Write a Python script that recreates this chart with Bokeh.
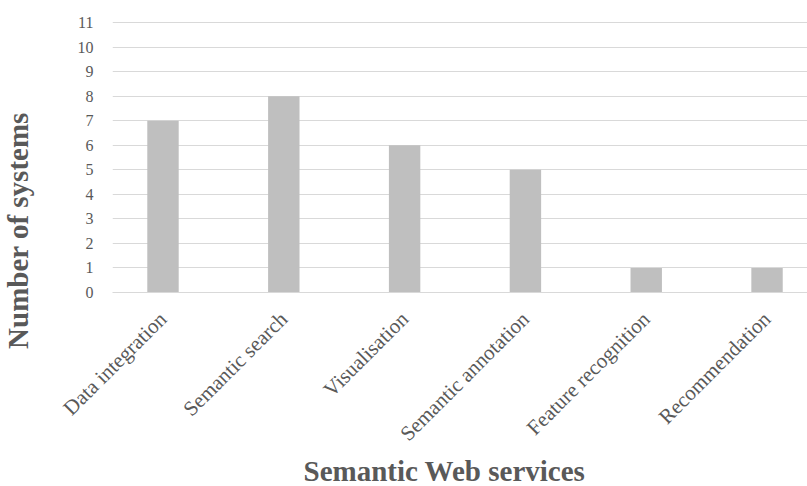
import math
from bokeh.plotting import figure
from bokeh.models import Range1d, FixedTicker, Title, Label
from bokeh.embed import file_html
from bokeh.resources import INLINE

categories = ["Data integration", "Semantic search", "Visualisation",
              "Semantic annotation", "Feature recognition", "Recommendation"]
counts = [7, 8, 6, 5, 1, 1]
y_ticks = list(range(0, 12))

x_pos = [i + 0.5 for i in range(len(categories))]

FONT = "Liberation Serif"
TXT = "#595959"

p = figure(width=807, height=486, output_backend="svg", toolbar_location=None,
           x_range=Range1d(0.082, 5.835), y_range=Range1d(0, 11.25),
           min_border_left=112, min_border_right=0, min_border_top=16,
           min_border_bottom=194)
p.outline_line_color = None
p.background_fill_color = "white"
p.border_fill_color = "white"

p.vbar(x=x_pos, top=counts, width=0.26, color="#bfbfbf", line_color=None)

p.xgrid.grid_line_color = None
p.ygrid.grid_line_color = "#d9d9d9"
p.ygrid.ticker = FixedTicker(ticks=y_ticks)

p.yaxis.ticker = FixedTicker(ticks=y_ticks)
p.yaxis.axis_line_color = None
p.yaxis.major_tick_line_color = None
p.yaxis.minor_tick_line_color = None
p.yaxis.major_label_standoff = 13
p.yaxis.major_label_text_font = FONT
p.yaxis.major_label_text_font_size = "16px"
p.yaxis.major_label_text_color = TXT

p.xaxis.ticker = FixedTicker(ticks=x_pos)
p.xaxis.major_label_overrides = {x: c for x, c in zip(x_pos, categories)}
p.xaxis.axis_line_color = "#d9d9d9"
p.xaxis.major_tick_line_color = None
p.xaxis.minor_tick_line_color = None
p.xaxis.major_label_orientation = math.pi / 4
p.xaxis.major_label_standoff = 17
p.xaxis.major_label_text_font = FONT
p.xaxis.major_label_text_font_size = "21px"
p.xaxis.major_label_text_color = TXT

p.add_layout(Label(x=-25, y=62, x_units="screen", y_units="screen",
                   text="Number of systems", angle=math.pi / 2,
                   text_align="center", text_baseline="middle",
                   text_font=FONT, text_font_size="29px", text_font_style="bold",
                   text_color=TXT), "left")
p.add_layout(Title(text="Semantic Web services", align="left", offset=191,
                   standoff=-5, vertical_align="top", text_font=FONT,
                   text_font_size="29px", text_font_style="bold",
                   text_color=TXT), "below")

open("out.html", "w").write(file_html(p, INLINE))
